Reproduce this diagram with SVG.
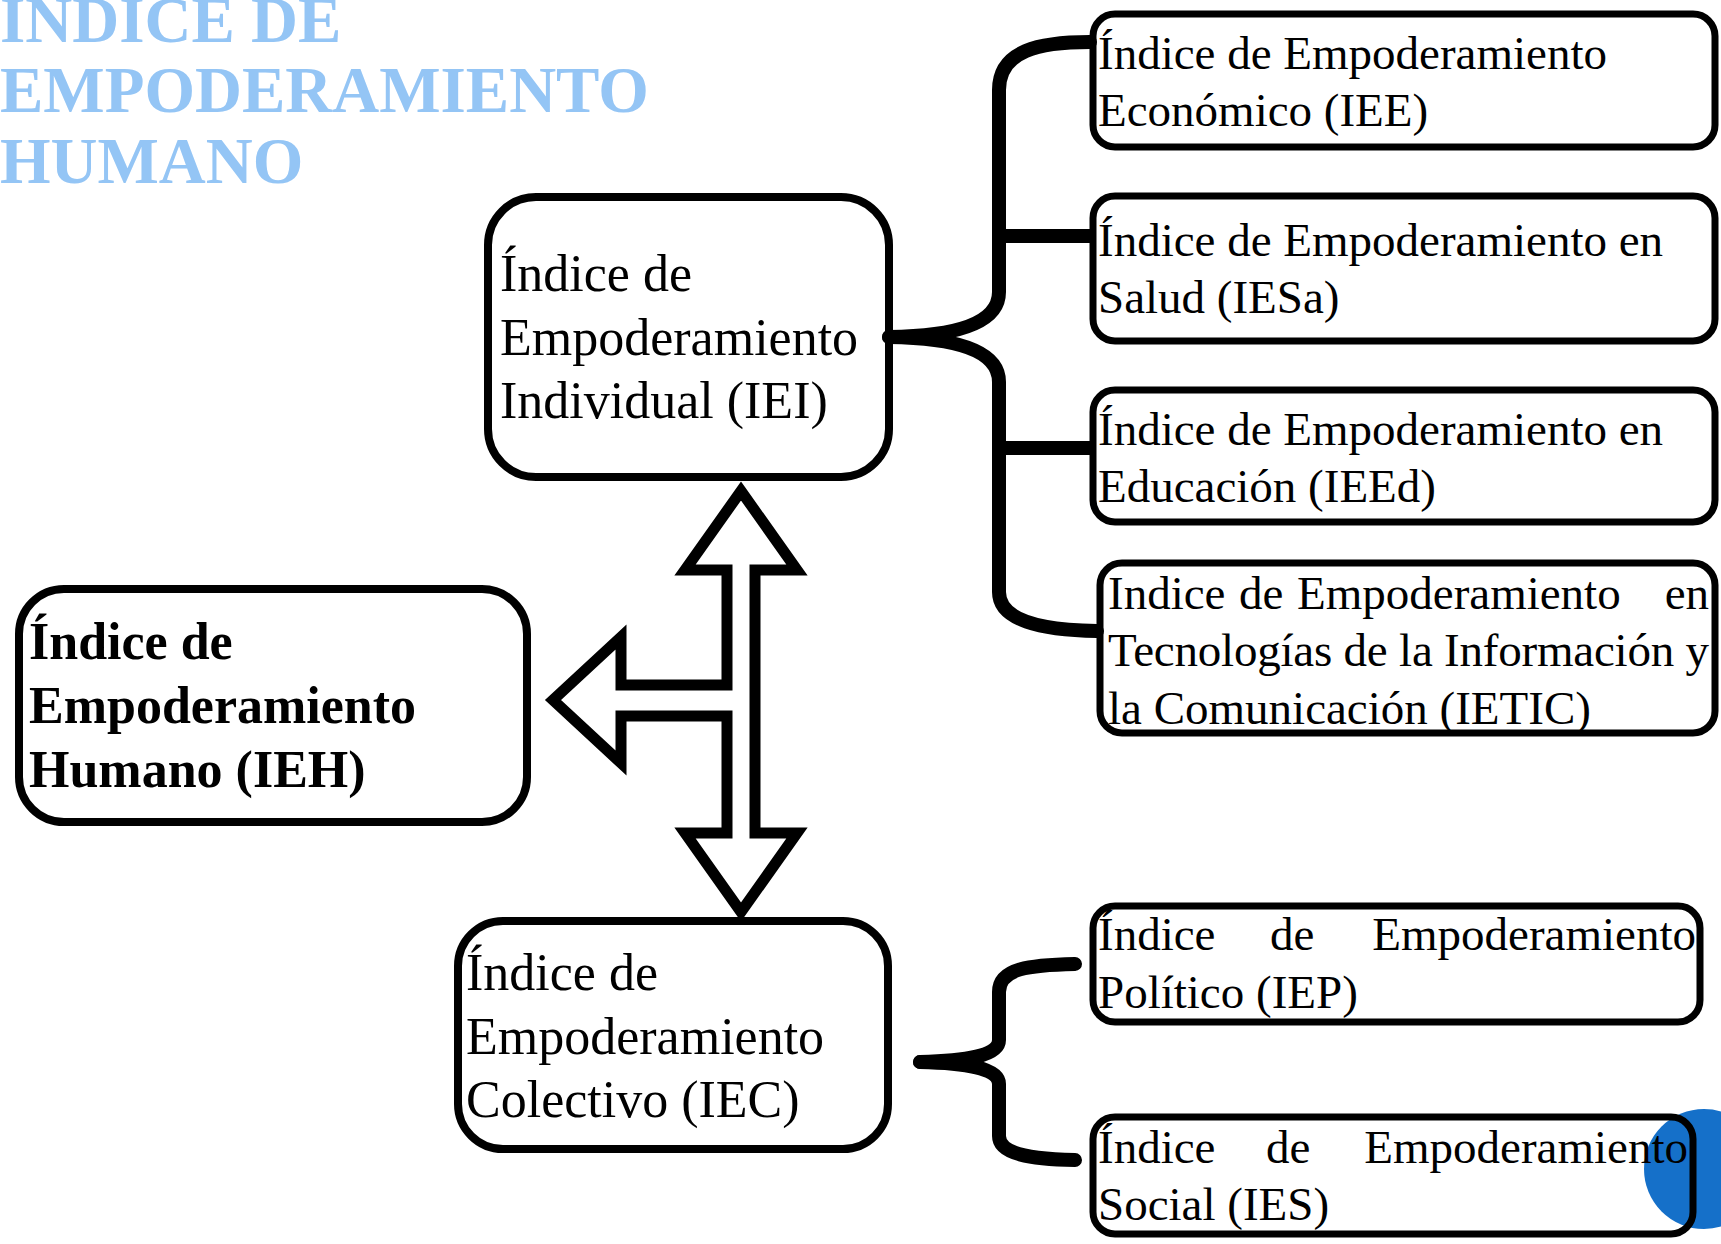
<svg xmlns="http://www.w3.org/2000/svg" width="1721" height="1244" viewBox="0 0 1721 1244">
<style>
  .title { font-family: "Liberation Serif", "Times New Roman", serif; font-weight: bold; font-size: 65px; fill: #94C5F5; }
  .big { fill: none; stroke: #000; stroke-width: 8; }
  .small { fill: none; stroke: #000; stroke-width: 7; }
  .t52 { font-family: "Liberation Serif", "Times New Roman", serif; font-size: 52px; fill: #000; }
  .t52b { font-family: "Liberation Serif", "Times New Roman", serif; font-size: 52px; font-weight: bold; fill: #000; }
  .t47 { font-family: "Liberation Serif", "Times New Roman", serif; font-size: 47px; fill: #000; }
  .brace { fill: none; stroke: #000; stroke-width: 14; stroke-linecap: round; stroke-linejoin: round; }
  .tick { fill: none; stroke: #000; stroke-width: 14; stroke-linecap: butt; }
  .arrow { fill: #fff; stroke: #000; stroke-width: 11; stroke-linejoin: miter; }
</style>
<rect width="1721" height="1244" fill="#fff"/>

<g id="title">
  <text class="title" x="0" y="42">INDICE DE</text>
  <text class="title" x="0" y="112">EMPODERAMIENTO</text>
  <text class="title" x="0" y="183">HUMANO</text>
</g>

<circle id="decor-circle" cx="1704" cy="1169" r="60" fill="#1570C9"/>

<g id="connectors">
  <path class="brace" d="M 1090 42 C 1040 42, 999 50, 999 90 L 999 292 C 999 322, 960 336, 889 337"/>
  <path class="brace" d="M 889 337 C 960 338, 999 352, 999 382 L 999 592 C 999 620, 1040 630, 1097 631"/>
  <path class="tick" d="M 999 236 H 1092 M 999 448 H 1092"/>
  <path class="brace" d="M 1075 964 C 1030 965, 999 968, 999 992 L 999 1040 C 999 1056, 965 1061, 920 1062"/>
  <path class="brace" d="M 920 1062 C 965 1063, 999 1068, 999 1084 L 999 1136 C 999 1154, 1030 1159, 1075 1160"/>
  <polygon class="arrow" points="741,491 797,570 755,570 755,833 797,833 741,912 685,833 727,833 727,716 621,716 621,763 553,700 621,637 621,685 727,685 727,570 685,570"/>
</g>

<g id="node-iei">
  <rect class="big" x="488" y="197" width="401" height="280" rx="48"/>
  <text class="t52" x="500" y="291">Índice de</text>
  <text class="t52" x="500" y="355">Empoderamiento</text>
  <text class="t52" x="500" y="418">Individual (IEI)</text>
</g>

<g id="node-ieh">
  <rect class="big" x="19" y="589" width="508" height="233" rx="45"/>
  <text class="t52b" x="29" y="659">Índice de</text>
  <text class="t52b" x="29" y="723">Empoderamiento</text>
  <text class="t52b" x="29" y="787">Humano (IEH)</text>
</g>

<g id="node-iec">
  <rect class="big" x="458" y="921" width="430" height="228" rx="45"/>
  <text class="t52" x="466" y="990">Índice de</text>
  <text class="t52" x="466" y="1054">Empoderamiento</text>
  <text class="t52" x="466" y="1117">Colectivo (IEC)</text>
</g>

<g id="node-iee">
  <rect class="small" x="1093" y="14" width="622" height="133" rx="22"/>
  <text class="t47" x="1098" y="69">Índice de Empoderamiento</text>
  <text class="t47" x="1098" y="126">Económico (IEE)</text>
</g>

<g id="node-iesa">
  <rect class="small" x="1093" y="196" width="622" height="145" rx="22"/>
  <text class="t47" x="1098" y="256">Índice de Empoderamiento en</text>
  <text class="t47" x="1098" y="313">Salud (IESa)</text>
</g>

<g id="node-ieed">
  <rect class="small" x="1093" y="390" width="622" height="132" rx="22"/>
  <text class="t47" x="1098" y="445">Índice de Empoderamiento en</text>
  <text class="t47" x="1098" y="502">Educación (IEEd)</text>
</g>

<g id="node-ietic">
  <rect class="small" x="1100" y="563" width="615" height="170" rx="22"/>
  <text class="t47" y="609"><tspan x="1108">Indice</tspan><tspan x="1239">de</tspan><tspan x="1297">Empoderamiento</tspan></text>
  <text class="t47" x="1709" y="609" text-anchor="end">en</text>
  <text class="t47" x="1108" y="666" textLength="601" lengthAdjust="spacing">Tecnologías de la Información y</text>
  <text class="t47" x="1108" y="724">la Comunicación (IETIC)</text>
</g>

<g id="node-iep">
  <rect class="small" x="1093" y="906" width="607" height="116" rx="22"/>
  <text class="t47" x="1098" y="950">Índice</text>
  <text class="t47" x="1270" y="950">de</text>
  <text class="t47" x="1696" y="950" text-anchor="end">Empoderamiento</text>
  <text class="t47" x="1098" y="1008">Político (IEP)</text>
</g>

<g id="node-ies">
  <rect class="small" x="1093" y="1117" width="600" height="117" rx="22"/>
  <text class="t47" x="1098" y="1163">Índice</text>
  <text class="t47" x="1266" y="1163">de</text>
  <text class="t47" x="1688" y="1163" text-anchor="end">Empoderamiento</text>
  <text class="t47" x="1098" y="1220">Social (IES)</text>
</g>
</svg>
